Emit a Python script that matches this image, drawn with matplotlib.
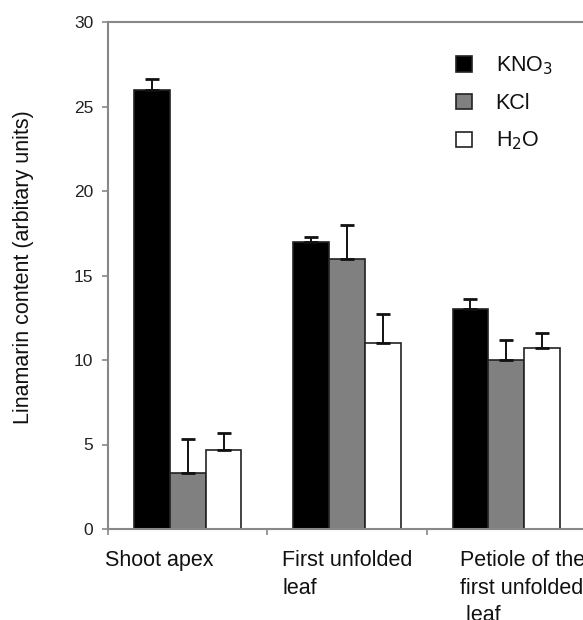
import matplotlib
matplotlib.use("Agg")
import matplotlib.pyplot as plt
import numpy as np

plt.rcParams['font.family'] = ['Liberation Sans', 'DejaVu Sans']

categories = ["Shoot apex", "First unfolded\nleaf", "Petiole of the\nfirst unfolded\n leaf"]
series_names = ["KNO$_3$", "KCl", "H$_2$O"]
kno3 = [26.0, 17.0, 13.0]
kcl = [3.3, 16.0, 10.0]
h2o = [4.7, 11.0, 10.7]
kno3_err = [0.6, 0.3, 0.6]
kcl_err = [2.0, 2.0, 1.2]
h2o_err = [1.0, 1.7, 0.9]
yticks = [0, 5, 10, 15, 20, 25, 30]

W, H = 583, 620
fig = plt.figure(figsize=(W / 100, H / 100), dpi=100)
ax = fig.add_axes([108 / W, 91 / H, (586 - 108) / W, (529 - 22) / H])

colors = ["#000000", "#808080", "#ffffff"]
values = [kno3, kcl, h2o]
errs = [kno3_err, kcl_err, h2o_err]
x = np.arange(len(categories))
bw = 0.225
handles = []
for i in range(3):
    pos = x + (i - 1) * bw
    b = ax.bar(pos, values[i], width=bw, color=colors[i], edgecolor="#222222",
               linewidth=1.2, zorder=2, label=series_names[i])
    ax.errorbar(pos, values[i], yerr=[np.zeros(3), errs[i]], fmt="none",
                ecolor="#111111", elinewidth=1.4, capsize=5, capthick=2, zorder=3)
    handles.append(b)

ax.set_xlim(-0.5, 2.5)
ax.set_ylim(0, 30)
ax.set_yticks(yticks)
ax.set_yticklabels([str(t) for t in yticks], fontsize=12.5)
ax.set_xticks([-0.5, 0.5, 1.5, 2.5])
ax.set_xticklabels([])
for s in ["left", "bottom", "top", "right"]:
    ax.spines[s].set_color("#888888")
    ax.spines[s].set_linewidth(1.5)
ax.tick_params(axis="both", colors="#888888", length=4, width=1.2, labelcolor="#222222")
ax.tick_params(axis="y", pad=6.5)

# left edges of category labels (pixels)
label_left_px = [105, 282, 460]
for c, px in zip(categories, label_left_px):
    fig.text(px / W, 1 - 550 / H, c, ha="left", va="top", fontsize=15.5,
             color="#111111", linespacing=1.41)

fig.text(24 / W, 1 - 267 / H, "Linamarin content (arbitary units)", rotation=90,
         ha="center", va="center", fontsize=15.5, color="#111111")

leg = ax.legend(handles=handles, labels=series_names, loc="upper left",
                bbox_to_anchor=((437 - 108) / (586 - 108), 1 - (35 - 22) / (529 - 22)),
                frameon=False, fontsize=15.5, handlelength=0.72, handleheight=0.72,
                labelspacing=0.74, handletextpad=1.1)
for t in leg.get_texts():
    t.set_color("#111111")

fig.savefig("out.png", dpi=100)
